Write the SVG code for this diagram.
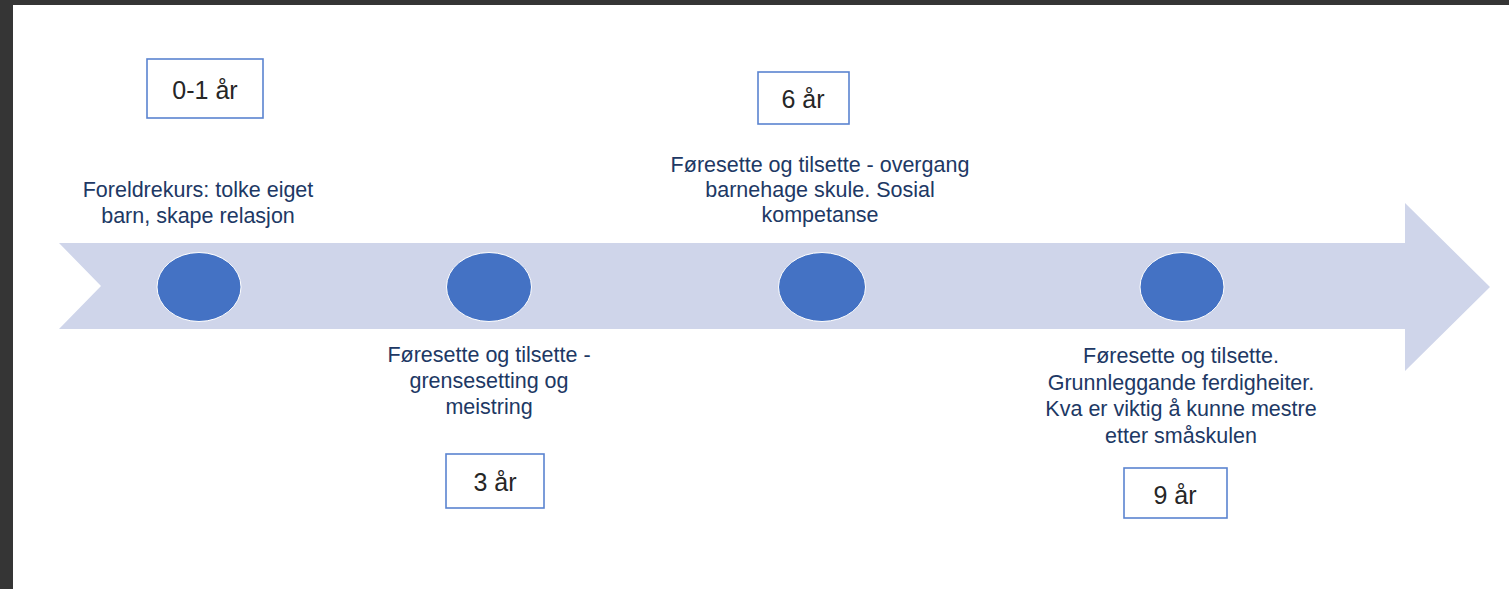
<svg xmlns="http://www.w3.org/2000/svg" width="1509" height="589" viewBox="0 0 1509 589">
<style>
.lbl{font-family:"Liberation Sans",Arial,sans-serif;font-size:21.5px;fill:#203864;text-anchor:middle}
.yr{font-family:"Liberation Sans",Arial,sans-serif;font-size:25px;fill:#262626;text-anchor:middle}
.box{fill:#ffffff;stroke:#5b84d0;stroke-width:1.6}
.dot{fill:#4472c4;stroke:#ffffff;stroke-width:1}
</style>
<rect x="0" y="0" width="1509" height="589" fill="#ffffff"/>
<rect x="0" y="0" width="1509" height="5" fill="#353535"/>
<rect x="0" y="0" width="13" height="589" fill="#353535"/>
<g id="connectors">
<polygon points="59,243 1405,243 1405,203 1490,287 1405,371 1405,329 59,329 101,286" fill="#cfd5ea"/>
</g>
<g id="node-0-1">
<ellipse class="dot" cx="199" cy="287" rx="42" ry="34.5"/>
<rect class="box" x="147" y="59" width="116" height="59"/>
<text class="yr" x="205" y="99">0-1 år</text>
<text class="lbl" x="198" y="197">Foreldrekurs: tolke eiget</text>
<text class="lbl" x="198" y="223">barn, skape relasjon</text>
</g>
<g id="node-3">
<ellipse class="dot" cx="489" cy="287" rx="42.5" ry="34.5"/>
<rect class="box" x="446" y="454" width="98" height="54"/>
<text class="yr" x="495" y="491">3 år</text>
<text class="lbl" x="489" y="362">Føresette og tilsette -</text>
<text class="lbl" x="489" y="388">grensesetting og</text>
<text class="lbl" x="489" y="414">meistring</text>
</g>
<g id="node-6">
<ellipse class="dot" cx="822" cy="287" rx="43.5" ry="34.5"/>
<rect class="box" x="758" y="72" width="91" height="52"/>
<text class="yr" x="803" y="108">6 år</text>
<text class="lbl" x="820" y="172">Føresette og tilsette - overgang</text>
<text class="lbl" x="820" y="197">barnehage skule. Sosial</text>
<text class="lbl" x="820" y="222">kompetanse</text>
</g>
<g id="node-9">
<ellipse class="dot" cx="1182" cy="287" rx="42" ry="34.5"/>
<rect class="box" x="1124" y="468" width="103" height="50"/>
<text class="yr" x="1175" y="504">9 år</text>
<text class="lbl" x="1181" y="363">Føresette og tilsette.</text>
<text class="lbl" x="1181" y="390">Grunnleggande ferdigheiter.</text>
<text class="lbl" x="1181" y="416">Kva er viktig å kunne mestre</text>
<text class="lbl" x="1181" y="443">etter småskulen</text>
</g>
</svg>
